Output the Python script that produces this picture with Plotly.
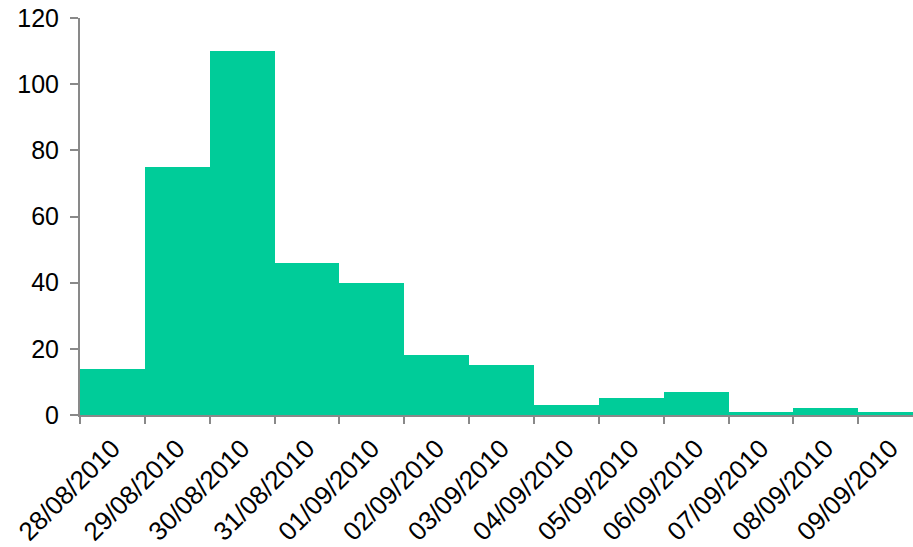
import plotly.graph_objects as go

# Daily counts by date
dates = ["28/08/2010", "29/08/2010", "30/08/2010", "31/08/2010", "01/09/2010",
         "02/09/2010", "03/09/2010", "04/09/2010", "05/09/2010", "06/09/2010",
         "07/09/2010", "08/09/2010", "09/09/2010"]
counts = [14, 75, 110, 46, 40, 18, 15, 3, 5, 7, 1, 2, 1]
y_ticks = [0, 20, 40, 60, 80, 100, 120]

bar_color = "#00CC99"
axis_color = "#898989"
font_family = "Liberation Sans, Arial, sans-serif"

n = len(dates)
starts = list(range(n))                 # left edge of each day's bar
centers = [i + 0.5 for i in starts]     # where the date labels sit
x_end = 12.845                          # last bar runs off the right edge

fig = go.Figure(go.Bar(
    x=starts, y=counts, width=1, offset=0,
    marker=dict(color=bar_color, line=dict(width=0)),
))

fig.update_layout(
    width=913, height=547,
    margin=dict(l=80, r=0, t=18, b=132),
    paper_bgcolor="white", plot_bgcolor="white",
    bargap=0, showlegend=False,
    font=dict(family=font_family, size=25, color="black"),
    # tick marks at day boundaries
    xaxis=dict(
        range=[0, x_end], tickvals=starts, ticktext=[""] * n,
        showline=True, linecolor=axis_color, linewidth=2,
        ticks="outside", ticklen=7, tickwidth=2, tickcolor=axis_color,
        showgrid=False, zeroline=False,
    ),
    # date labels centred under each bar
    xaxis2=dict(
        overlaying="x", side="bottom", anchor="y",
        range=[0, x_end], tickvals=centers, ticktext=dates,
        tickangle=-45, ticks="", showline=False, showgrid=False, zeroline=False,
        tickfont=dict(size=26), ticklabelstandoff=12,
    ),
    yaxis=dict(
        range=[0, 120], tickvals=y_ticks,
        showline=True, linecolor=axis_color, linewidth=2,
        ticks="outside", ticklen=8, tickwidth=2, tickcolor=axis_color,
        showgrid=False, zeroline=False, ticklabelstandoff=6,
        tickfont=dict(size=25),
    ),
)
# invisible trace so the label axis is drawn
fig.add_trace(go.Scatter(x=[centers[0]], y=[0], xaxis="x2", mode="markers",
                         marker=dict(opacity=0), hoverinfo="skip"))

fig.write_html("out.html")
